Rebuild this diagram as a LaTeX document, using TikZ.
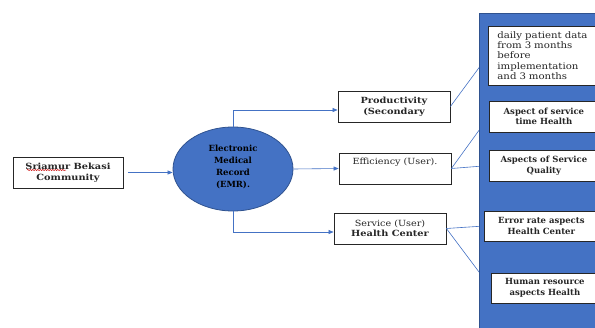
\documentclass[tikz,border=0pt]{standalone}
\usepackage{fontspec}
\setmainfont{DejaVu Serif}
\newfontfamily\regf[FakeStretch=1.13]{DejaVu Serif}
\newfontfamily\bldf[FakeStretch=1.15]{DejaVu Serif Bold}
\newfontfamily\pbldf{DejaVu Serif Bold}
\usetikzlibrary{arrows.meta,shapes.geometric,calc,decorations.pathmorphing}
\definecolor{office}{HTML}{4472C4}
\definecolor{officedark}{HTML}{2F528F}
\definecolor{txt}{HTML}{262626}
\begin{document}
\begin{tikzpicture}[x=1pt,y=-1pt,
  box/.style={draw=black!85, line width=0.8pt, fill=white, inner sep=0pt,
    font=\fontsize{8.5}{10.5}\selectfont\bldf, text=txt, align=center},
  plain/.style={font=\fontsize{8.5}{10.5}\selectfont\regf},
  pbox/.style={box, font=\fontsize{8.5}{10.5}\selectfont\pbldf},
  link/.style={draw=office, line width=0.6pt},
  arr/.style={link, -{Triangle[length=5pt,width=4pt]}}]
\useasboundingbox (0,0) rectangle (595,327);
\clip (0,0) rectangle (595,327);
% left part
\node[box, minimum width=110pt, minimum height=31pt] (src) at (68,172.5) {Sriamur Bekasi\\Community};
\node[ellipse, draw=officedark, line width=0.8pt, fill=office, minimum width=120pt, minimum height=84pt,
  inner sep=0pt, align=center, font=\fontsize{8.5}{11.8}\selectfont\pbldf, text=black] (emr) at (233,169)
  {Electronic\\Medical\\Record\\(EMR).\\[-6pt]};
\node[box, minimum width=112pt, minimum height=31pt] (prod) at (394,106.5) {Productivity\\(Secondary};
\node[box, plain, minimum width=112pt, minimum height=31pt] (eff) at (395,168.5) {Efficiency (User).\\ \strut};
\node[box, minimum width=112pt, minimum height=31pt] (serv) at (390,228.5) {{\regf Service (User)}\\Health Center};
% connectors
\coordinate (srcA) at ($(src.east)+(5,0)$);
\draw[arr] (srcA) -- (srcA -| emr.west);
\draw[arr] (emr.north) |- ($(prod.west)+(0,3.5)$);
\draw[arr] (emr.east) -- (eff.west);
\draw[arr] (emr.south) |- ($(serv.west)+(0,3.5)$);
% red spelling underline
\draw[red!80!black, line width=0.5pt, decorate, decoration={snake, amplitude=0.6pt, segment length=2.5pt}]
  (27,170) -- (66,170);
% right panel
\coordinate (b1w) at (488,55.5);
\coordinate (b2w) at (489,116.5);
\coordinate (b3w) at (489,165.5);
\coordinate (b4w) at (484,226);
\coordinate (b5w) at (491,288);
\draw[link] (prod.east) -- (b1w);
\draw[link] (eff.east) -- (b2w);
\draw[link] (eff.east) -- (b3w);
\draw[link] (serv.east) -- (b4w);
\draw[link] (serv.east) -- (b5w);
\node[draw=officedark, line width=0.8pt, fill=office, minimum width=125pt, minimum height=320pt, inner sep=0pt, anchor=north west] (panel) at (479,13) {};
\node[box, minimum width=112pt, minimum height=59pt, anchor=west, align=left, text width=112pt,
  font=\fontsize{9}{10.4}\selectfont\regf] (b1) at (b1w)
  {\hspace*{9pt}daily patient data\\\hspace*{9pt}from 3 months\\\hspace*{9pt}before\\\hspace*{9pt}implementation\\\hspace*{9pt}and 3 months};
\node[pbox, minimum width=109pt, minimum height=31pt, anchor=west] (b2) at (b2w) {Aspect of service\\time Health};
\node[pbox, minimum width=109pt, minimum height=31pt, anchor=west] (b3) at (b3w) {Aspects of Service\\Quality};
\node[pbox, minimum width=114pt, minimum height=30pt, anchor=west] (b4) at (b4w) {Error rate aspects\\Health Center};
\node[pbox, minimum width=107pt, minimum height=30pt, anchor=west] (b5) at (b5w) {Human resource\\aspects Health};
\end{tikzpicture}
\end{document}
